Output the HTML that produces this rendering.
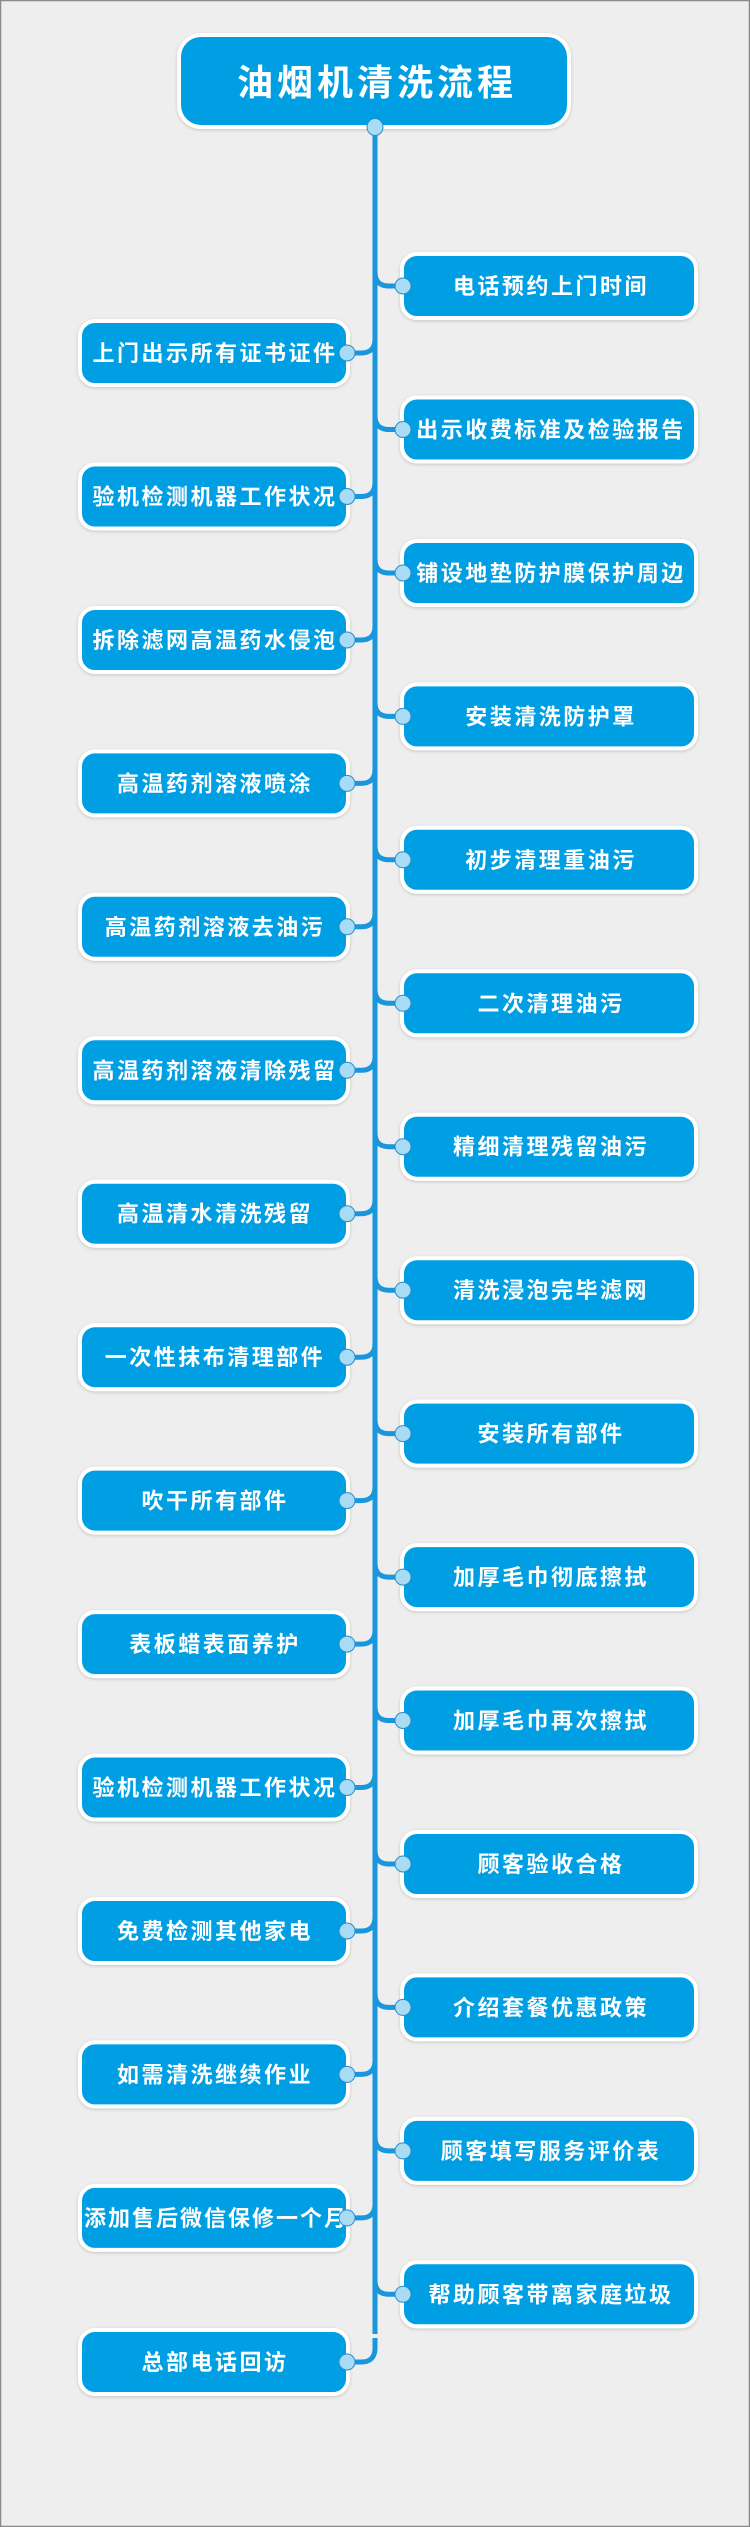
<!DOCTYPE html>
<html><head><meta charset="utf-8"><style>
html,body{margin:0;padding:0;}
body{width:750px;height:2527px;background:#eeeeee;overflow:hidden;}
svg{display:block;}
text{font-family:"Liberation Sans","Noto Sans CJK SC",sans-serif;font-weight:bold;fill:#fff;}
</style></head><body>
<svg width="750" height="2527" viewBox="0 0 750 2527" xmlns="http://www.w3.org/2000/svg">
<defs>
<filter id="sh" x="-10%" y="-20%" width="120%" height="140%"><feDropShadow dx="0" dy="1" stdDeviation="1.5" flood-color="#000" flood-opacity="0.18"/></filter>
<clipPath id="lc"><rect x="82" y="-30" width="263" height="60"/></clipPath>
<g id="R">
<path d="M375,-14 Q375,0 389,0 L402,0" fill="none" stroke="#1a96dc" stroke-width="5"/>
<rect x="402" y="-32" width="294" height="64" rx="15" fill="#009fe3" stroke="#fff" stroke-width="4" filter="url(#sh)"/>
</g>
<g id="L">
<path d="M375,-14 Q375,0 361,0 L347,0" fill="none" stroke="#1a96dc" stroke-width="5"/>
<rect x="80" y="-32" width="268" height="64" rx="15" fill="#009fe3" stroke="#fff" stroke-width="4" filter="url(#sh)"/>
</g>
</defs>
<rect x="0.5" y="0.5" width="749" height="2526" fill="#eeeeee" stroke="#8a8a8a" stroke-width="1.5"/>
<line x1="375" y1="127" x2="375" y2="2334" stroke="#1a96dc" stroke-width="5"/>
<path d="M375,2338 L375,2348 Q375,2362 361,2362 L347,2362" fill="none" stroke="#1a96dc" stroke-width="5"/>
<rect x="179" y="35" width="390" height="92" rx="22" fill="#009fe3" stroke="#fff" stroke-width="4" filter="url(#sh)"/>
<text x="377" y="95" font-size="36" text-anchor="middle" letter-spacing="4">油烟机清洗流程</text>
<ellipse cx="375" cy="127" rx="8" ry="8.5" fill="#a8dcf5" stroke="#2a8ccc" stroke-width="1"/>

<g font-size="22" text-anchor="middle" letter-spacing="2.5">
<g transform="translate(0,286)"><use href="#R"/><text x="551" y="8">电话预约上门时间</text><circle cx="403" cy="0" r="8" fill="#a8dcf5" stroke="#2a8ccc"/></g>
<g transform="translate(0,429.5)"><use href="#R"/><text x="551" y="8">出示收费标准及检验报告</text><circle cx="403" cy="0" r="8" fill="#a8dcf5" stroke="#2a8ccc"/></g>
<g transform="translate(0,573)"><use href="#R"/><text x="551" y="8">铺设地垫防护膜保护周边</text><circle cx="403" cy="0" r="8" fill="#a8dcf5" stroke="#2a8ccc"/></g>
<g transform="translate(0,716.4)"><use href="#R"/><text x="551" y="8">安装清洗防护罩</text><circle cx="403" cy="0" r="8" fill="#a8dcf5" stroke="#2a8ccc"/></g>
<g transform="translate(0,859.8)"><use href="#R"/><text x="551" y="8">初步清理重油污</text><circle cx="403" cy="0" r="8" fill="#a8dcf5" stroke="#2a8ccc"/></g>
<g transform="translate(0,1003.3)"><use href="#R"/><text x="551" y="8">二次清理油污</text><circle cx="403" cy="0" r="8" fill="#a8dcf5" stroke="#2a8ccc"/></g>
<g transform="translate(0,1146.7)"><use href="#R"/><text x="551" y="8">精细清理残留油污</text><circle cx="403" cy="0" r="8" fill="#a8dcf5" stroke="#2a8ccc"/></g>
<g transform="translate(0,1290.2)"><use href="#R"/><text x="551" y="8">清洗浸泡完毕滤网</text><circle cx="403" cy="0" r="8" fill="#a8dcf5" stroke="#2a8ccc"/></g>
<g transform="translate(0,1433.6)"><use href="#R"/><text x="551" y="8">安装所有部件</text><circle cx="403" cy="0" r="8" fill="#a8dcf5" stroke="#2a8ccc"/></g>
<g transform="translate(0,1577.1)"><use href="#R"/><text x="551" y="8">加厚毛巾彻底擦拭</text><circle cx="403" cy="0" r="8" fill="#a8dcf5" stroke="#2a8ccc"/></g>
<g transform="translate(0,1720.5)"><use href="#R"/><text x="551" y="8">加厚毛巾再次擦拭</text><circle cx="403" cy="0" r="8" fill="#a8dcf5" stroke="#2a8ccc"/></g>
<g transform="translate(0,1864)"><use href="#R"/><text x="551" y="8">顾客验收合格</text><circle cx="403" cy="0" r="8" fill="#a8dcf5" stroke="#2a8ccc"/></g>
<g transform="translate(0,2007.4)"><use href="#R"/><text x="551" y="8">介绍套餐优惠政策</text><circle cx="403" cy="0" r="8" fill="#a8dcf5" stroke="#2a8ccc"/></g>
<g transform="translate(0,2150.9)"><use href="#R"/><text x="551" y="8">顾客填写服务评价表</text><circle cx="403" cy="0" r="8" fill="#a8dcf5" stroke="#2a8ccc"/></g>
<g transform="translate(0,2294.3)"><use href="#R"/><text x="551" y="8">帮助顾客带离家庭垃圾</text><circle cx="403" cy="0" r="8" fill="#a8dcf5" stroke="#2a8ccc"/></g>

<g transform="translate(0,353)"><use href="#L"/><text x="215" y="8">上门出示所有证书证件</text><circle cx="347" cy="0" r="8" fill="#a8dcf5" stroke="#2a8ccc"/></g>
<g transform="translate(0,496.5)"><use href="#L"/><text x="215" y="8">验机检测机器工作状况</text><circle cx="347" cy="0" r="8" fill="#a8dcf5" stroke="#2a8ccc"/></g>
<g transform="translate(0,640)"><use href="#L"/><text x="215" y="8">拆除滤网高温药水侵泡</text><circle cx="347" cy="0" r="8" fill="#a8dcf5" stroke="#2a8ccc"/></g>
<g transform="translate(0,783.4)"><use href="#L"/><text x="215" y="8">高温药剂溶液喷涂</text><circle cx="347" cy="0" r="8" fill="#a8dcf5" stroke="#2a8ccc"/></g>
<g transform="translate(0,926.8)"><use href="#L"/><text x="215" y="8">高温药剂溶液去油污</text><circle cx="347" cy="0" r="8" fill="#a8dcf5" stroke="#2a8ccc"/></g>
<g transform="translate(0,1070.3)"><use href="#L"/><text x="215" y="8">高温药剂溶液清除残留</text><circle cx="347" cy="0" r="8" fill="#a8dcf5" stroke="#2a8ccc"/></g>
<g transform="translate(0,1213.7)"><use href="#L"/><text x="215" y="8">高温清水清洗残留</text><circle cx="347" cy="0" r="8" fill="#a8dcf5" stroke="#2a8ccc"/></g>
<g transform="translate(0,1357.2)"><use href="#L"/><text x="215" y="8">一次性抹布清理部件</text><circle cx="347" cy="0" r="8" fill="#a8dcf5" stroke="#2a8ccc"/></g>
<g transform="translate(0,1500.6)"><use href="#L"/><text x="215" y="8">吹干所有部件</text><circle cx="347" cy="0" r="8" fill="#a8dcf5" stroke="#2a8ccc"/></g>
<g transform="translate(0,1644.1)"><use href="#L"/><text x="215" y="8">表板蜡表面养护</text><circle cx="347" cy="0" r="8" fill="#a8dcf5" stroke="#2a8ccc"/></g>
<g transform="translate(0,1787.5)"><use href="#L"/><text x="215" y="8">验机检测机器工作状况</text><circle cx="347" cy="0" r="8" fill="#a8dcf5" stroke="#2a8ccc"/></g>
<g transform="translate(0,1931)"><use href="#L"/><text x="215" y="8">免费检测其他家电</text><circle cx="347" cy="0" r="8" fill="#a8dcf5" stroke="#2a8ccc"/></g>
<g transform="translate(0,2074.4)"><use href="#L"/><text x="215" y="8">如需清洗继续作业</text><circle cx="347" cy="0" r="8" fill="#a8dcf5" stroke="#2a8ccc"/></g>
<g transform="translate(0,2217.9)"><use href="#L"/><text x="84" y="8" text-anchor="start" letter-spacing="2" clip-path="url(#lc)">添加售后微信保修一个月</text><circle cx="347" cy="0" r="8" fill="#a8dcf5" stroke="#2a8ccc"/></g>
<g transform="translate(0,2362)"><rect x="80" y="-32" width="268" height="64" rx="15" fill="#009fe3" stroke="#fff" stroke-width="4" filter="url(#sh)"/><text x="215" y="8">总部电话回访</text><circle cx="347" cy="0" r="8" fill="#a8dcf5" stroke="#2a8ccc"/></g>
</g>
</svg>
</body></html>
